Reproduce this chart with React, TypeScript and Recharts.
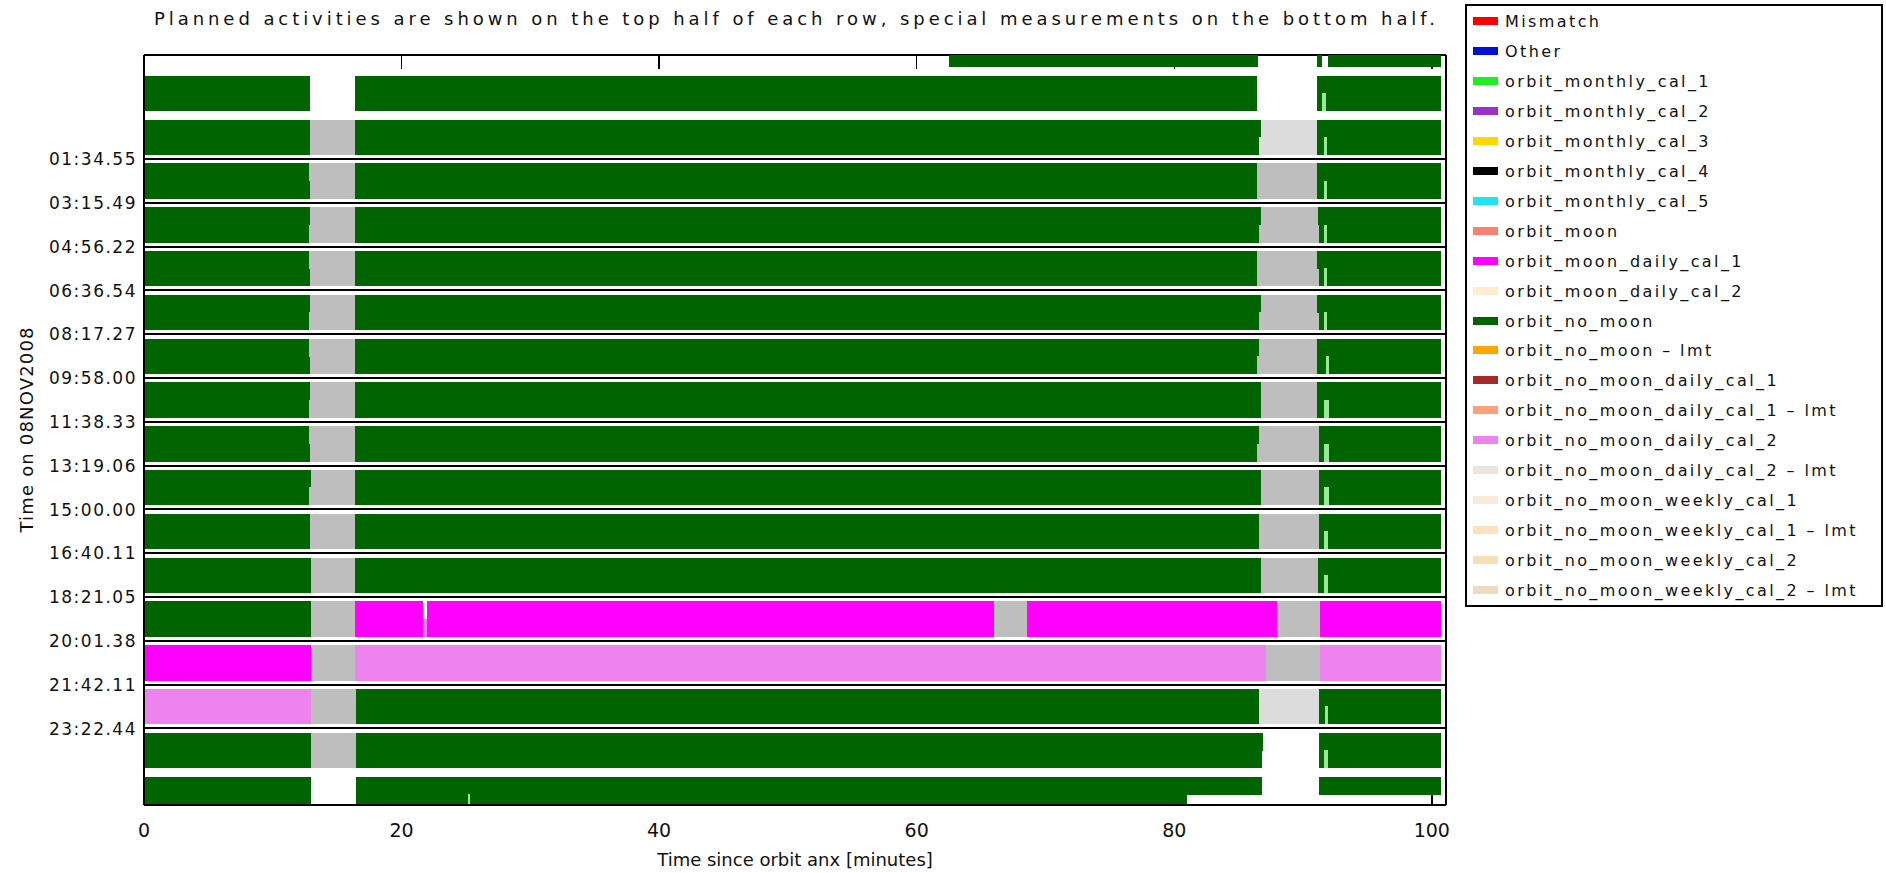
import React from 'react';
import { BarChart, Bar, XAxis, YAxis, CartesianGrid, Cell, Legend, Customized } from 'recharts';

const FONT = '"DejaVu Sans", Verdana, sans-serif';

// y tick labels (orbit start times)
const timeLabels = ['01:34.55', '03:15.49', '04:56.22', '06:36.54', '08:17.27', '09:58.00', '11:38.33', '13:19.06', '15:00.00', '16:40.11', '18:21.05', '20:01.38', '21:42.11', '23:22.44'];
const sepTicks = timeLabels.map((_, i) => i);
const minuteTicks = [0, 20, 40, 60, 80, 100];

const palette: Record<string, string> = {
  G: '#006400', S: '#bebebe', L: '#dcdcdc', M: '#ff00ff', V: '#ee82ee', N: '#98e898', W: 'none',
};

// planned activities (top half of each orbit row): [segment end in minutes, colour code]
const planned: [number, string][][] = [
  [[62.5, 'W'], [86.5, 'G'], [91.1, 'W'], [91.5, 'G'], [91.9, 'W'], [100.7, 'G']],
  [[12.9, 'G'], [16.35, 'W'], [86.4, 'G'], [91.1, 'W'], [100.7, 'G']],
  [[12.9, 'G'], [16.35, 'S'], [86.7, 'G'], [91.1, 'L'], [100.7, 'G']],
  [[12.8, 'G'], [16.4, 'S'], [86.45, 'G'], [91.1, 'S'], [100.7, 'G']],
  [[12.9, 'G'], [16.35, 'S'], [86.7, 'G'], [91.15, 'S'], [100.7, 'G']],
  [[12.8, 'G'], [16.35, 'S'], [86.45, 'G'], [91.1, 'S'], [100.7, 'G']],
  [[12.9, 'G'], [16.4, 'S'], [86.7, 'G'], [91.1, 'S'], [100.7, 'G']],
  [[12.85, 'G'], [16.35, 'S'], [86.55, 'G'], [91.1, 'S'], [100.7, 'G']],
  [[12.9, 'G'], [16.4, 'S'], [86.75, 'G'], [91.1, 'S'], [100.7, 'G']],
  [[12.85, 'G'], [16.35, 'S'], [86.6, 'G'], [91.2, 'S'], [100.7, 'G']],
  [[12.95, 'G'], [16.4, 'S'], [86.75, 'G'], [91.2, 'S'], [100.7, 'G']],
  [[12.9, 'G'], [16.35, 'S'], [86.6, 'G'], [91.2, 'S'], [100.7, 'G']],
  [[12.95, 'G'], [16.35, 'S'], [86.7, 'G'], [91.15, 'S'], [100.7, 'G']],
  [[12.95, 'G'], [16.35, 'S'], [21.7, 'M'], [21.95, 'W'], [66.0, 'M'], [68.55, 'S'], [88.0, 'M'], [91.3, 'S'], [100.7, 'M']],
  [[13.0, 'M'], [16.35, 'S'], [87.1, 'V'], [91.35, 'S'], [100.7, 'V']],
  [[13.0, 'V'], [16.45, 'S'], [86.56, 'G'], [91.2, 'L'], [100.7, 'G']],
  [[13.0, 'G'], [16.45, 'S'], [86.9, 'G'], [91.2, 'W'], [100.7, 'G']],
  [[13.0, 'G'], [16.45, 'W'], [86.8, 'G'], [91.2, 'W'], [100.7, 'G']],
];

// special measurements (bottom half of each orbit row)
const special: [number, string][][] = [
  [[62.5, 'W'], [86.5, 'G'], [91.1, 'W'], [91.5, 'G'], [91.9, 'W'], [100.7, 'G']],
  [[12.9, 'G'], [16.35, 'W'], [86.4, 'G'], [91.1, 'W'], [91.5, 'G'], [91.8, 'N'], [100.7, 'G']],
  [[12.9, 'G'], [16.35, 'S'], [86.6, 'G'], [91.1, 'L'], [91.65, 'G'], [91.85, 'N'], [100.7, 'G']],
  [[12.9, 'G'], [16.4, 'S'], [86.45, 'G'], [91.1, 'S'], [91.65, 'G'], [91.85, 'N'], [100.7, 'G']],
  [[12.8, 'G'], [16.35, 'S'], [86.55, 'G'], [91.2, 'S'], [91.6, 'G'], [91.85, 'N'], [100.7, 'G']],
  [[12.9, 'G'], [16.35, 'S'], [86.45, 'G'], [91.2, 'S'], [91.65, 'G'], [91.87, 'N'], [100.7, 'G']],
  [[12.8, 'G'], [16.4, 'S'], [86.6, 'G'], [91.2, 'S'], [91.6, 'G'], [91.85, 'N'], [100.7, 'G']],
  [[12.9, 'G'], [16.35, 'S'], [86.45, 'G'], [91.1, 'S'], [91.75, 'G'], [92.0, 'N'], [100.7, 'G']],
  [[12.85, 'G'], [16.4, 'S'], [86.75, 'G'], [91.1, 'S'], [91.65, 'G'], [92.0, 'N'], [100.7, 'G']],
  [[12.9, 'G'], [16.35, 'S'], [86.45, 'G'], [91.2, 'S'], [91.65, 'G'], [92.0, 'N'], [100.7, 'G']],
  [[12.85, 'G'], [16.4, 'S'], [86.75, 'G'], [91.2, 'S'], [91.65, 'G'], [92.0, 'N'], [100.7, 'G']],
  [[12.9, 'G'], [16.35, 'S'], [86.6, 'G'], [91.2, 'S'], [91.65, 'G'], [91.95, 'N'], [100.7, 'G']],
  [[13.0, 'G'], [16.35, 'S'], [86.7, 'G'], [91.15, 'S'], [91.65, 'G'], [91.9, 'N'], [100.7, 'G']],
  [[13.0, 'G'], [16.35, 'S'], [21.7, 'M'], [21.95, 'V'], [66.0, 'M'], [68.55, 'S'], [88.0, 'M'], [91.3, 'S'], [100.7, 'M']],
  [[12.95, 'M'], [16.35, 'S'], [87.1, 'V'], [91.35, 'S'], [100.7, 'V']],
  [[13.0, 'V'], [16.45, 'S'], [86.56, 'G'], [91.2, 'L'], [91.7, 'G'], [91.95, 'N'], [100.7, 'G']],
  [[13.0, 'G'], [16.45, 'S'], [86.8, 'G'], [91.2, 'W'], [91.6, 'G'], [91.95, 'N'], [100.7, 'G']],
  [[13.0, 'G'], [16.45, 'W'], [25.15, 'G'], [25.3, 'N'], [81.0, 'G']],
];

const legendNames = [
  'Mismatch', 'Other', 'orbit_monthly_cal_1', 'orbit_monthly_cal_2', 'orbit_monthly_cal_3',
  'orbit_monthly_cal_4', 'orbit_monthly_cal_5', 'orbit_moon', 'orbit_moon_daily_cal_1',
  'orbit_moon_daily_cal_2', 'orbit_no_moon', 'orbit_no_moon – lmt', 'orbit_no_moon_daily_cal_1',
  'orbit_no_moon_daily_cal_1 – lmt', 'orbit_no_moon_daily_cal_2', 'orbit_no_moon_daily_cal_2 – lmt',
  'orbit_no_moon_weekly_cal_1', 'orbit_no_moon_weekly_cal_1 – lmt', 'orbit_no_moon_weekly_cal_2',
  'orbit_no_moon_weekly_cal_2 – lmt',
];
const legendColors = [
  '#ff0000', '#0010d8', '#1ef01e', '#9932cc', '#ffd700', '#000000', '#1ee6f0', '#fa8072', '#ff00ff',
  '#ffebcd', '#006400', '#ffa500', '#a52a2a', '#ffa07a', '#ee82ee', '#eee4df', '#f8ebd9', '#fce2bd',
  '#f7e0b8', '#eedcc2',
];

const V_TOP = -2.374;
const V_BOT = 14.749;
const X_MAX = 101.1;

function toEntry(v: number, segs: [number, string][], maxSeg: number) {
  const e: Record<string, number | string> = { v };
  let prev = 0;
  for (let i = 0; i < maxSeg; i++) {
    if (i < segs.length) {
      e['s' + i] = segs[i][0] - prev;
      e['c' + i] = palette[segs[i][1]];
      prev = segs[i][0];
    } else {
      e['s' + i] = 0;
      e['c' + i] = 'none';
    }
  }
  return e;
}

const MAX_SEG = Math.max(...planned.map((s) => s.length), ...special.map((s) => s.length));
const rows: Record<string, number | string>[] = [];
planned.forEach((segs, k) => {
  rows.push(toEntry(k - 2.7, segs, MAX_SEG));
  rows.push(toEntry(k - 2.3, special[k], MAX_SEG));
});

const YTick = (props: any) => {
  const { x, y, payload } = props;
  return (
    <text x={x} y={y} dy="0.36em" textAnchor="end" fontSize={17} fontFamily={FONT} fill="#111" style={{ letterSpacing: '1.5px' }}>
      {timeLabels[payload.value]}
    </text>
  );
};

const XTick = (props: any) => {
  const { x, y, payload } = props;
  return (
    <text x={x} y={y + 32} textAnchor="middle" fontSize={19} fontFamily={FONT} fill="#111">
      {payload.value}
    </text>
  );
};

const Titles = () => (
  <g fontFamily={FONT} fill="#111">
    <text x={794.5} y={25} fontSize={18} textAnchor="middle" textLength={1281} lengthAdjust="spacing">
      Planned activities are shown on the top half of each row, special measurements on the bottom half.
    </text>
    <text x={795} y={866} fontSize={18} textAnchor="middle">
      Time since orbit anx [minutes]
    </text>
    <text x={33} y={430} fontSize={18} textAnchor="middle" textLength={205} lengthAdjust="spacing" transform="rotate(-90, 33, 430)">
      Time on 08NOV2008
    </text>
  </g>
);

const LegendBox = () => (
  <svg width={418} height={604} style={{ display: 'block' }}>
    <rect x={0.75} y={0.75} width={416} height={601} fill="#fff" stroke="#000" strokeWidth={1.5} />
    {legendNames.map((name, i) => {
      const cy = 17 + i * 29.95;
      return (
        <g key={name}>
          <rect x={8} y={cy - 4} width={25} height={8} fill={legendColors[i]} />
          <text x={40} y={cy + 6} fontSize={16} fontFamily={FONT} fill="#111" style={{ letterSpacing: '2.4px' }}>
            {name}
          </text>
        </g>
      );
    })}
  </svg>
);

export default function App() {
  return (
    <div style={{ position: 'absolute', left: 0, top: 0, width: 1886, height: 873, background: '#fff', shapeRendering: 'crispEdges' }}>
      <BarChart
        width={1886}
        height={873}
        layout="vertical"
        data={rows}
        margin={{ top: 55, right: 440, bottom: 0, left: 0 }}
        barCategoryGap={0}
        barGap={0}
      >
        <CartesianGrid horizontal vertical={false} stroke="#000" strokeWidth={2} strokeOpacity={1} />
        <XAxis
          xAxisId="top"
          orientation="top"
          mirror
          type="number"
          domain={[0, X_MAX]}
          allowDataOverflow
          ticks={minuteTicks}
          interval={0}
          height={1}
          tickSize={14}
          tickFormatter={() => ''}
          axisLine={{ stroke: '#000', strokeWidth: 1.5 }}
          tickLine={{ stroke: '#000', strokeWidth: 1.5 }}
          zIndex={-10}
        />
        <XAxis
          xAxisId="bt"
          orientation="bottom"
          mirror
          type="number"
          domain={[0, X_MAX]}
          allowDataOverflow
          ticks={minuteTicks}
          interval={0}
          height={1}
          tickSize={12}
          tickFormatter={() => ''}
          axisLine={false}
          tickLine={{ stroke: '#000', strokeWidth: 1.5 }}
          zIndex={-10}
        />
        <XAxis
          type="number"
          domain={[0, X_MAX]}
          allowDataOverflow
          ticks={minuteTicks}
          interval={0}
          height={68}
          tickSize={0}
          tickMargin={0}
          tick={<XTick />}
          axisLine={{ stroke: '#000', strokeWidth: 1.5 }}
        />
        <YAxis
          type="number"
          dataKey="v"
          domain={[V_TOP, V_BOT]}
          allowDataOverflow
          ticks={sepTicks}
          interval={0}
          width={144}
          tickSize={0}
          tickMargin={7}
          tick={<YTick />}
          axisLine={{ stroke: '#000', strokeWidth: 1.5 }}
        />
        <YAxis
          yAxisId="right"
          orientation="right"
          mirror
          type="number"
          domain={[0, 1]}
          width={1}
          tick={false}
          tickLine={false}
          axisLine={{ stroke: '#000', strokeWidth: 1.5 }}
        />
        {Array.from({ length: MAX_SEG }, (_, i) => (
          <Bar key={i} dataKey={`s${i}`} stackId="row" isAnimationActive={false}>
            {rows.map((r, j) => (
              <Cell key={j} fill={String(r['c' + i])} />
            ))}
          </Bar>
        ))}
        <Legend
          layout="horizontal"
          align="center"
          verticalAlign="middle"
          content={<LegendBox />}
          wrapperStyle={{ left: 1465, top: 4, width: 418, height: 604 }}
        />
        <Customized component={Titles} />
      </BarChart>
    </div>
  );
}
